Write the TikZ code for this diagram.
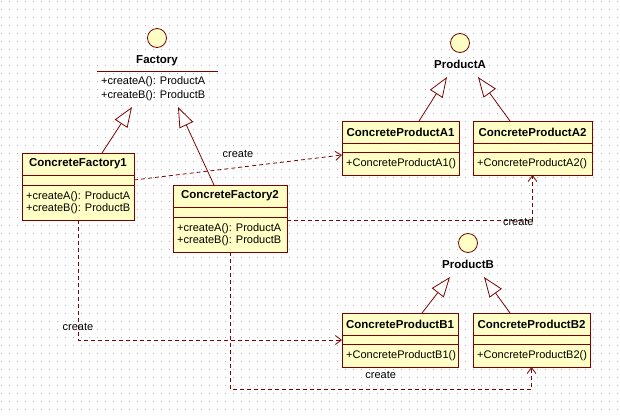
\documentclass[tikz,border=0pt]{standalone}
\usepackage{fontspec}
\setmainfont{Liberation Sans}
\usetikzlibrary{arrows.meta,positioning,calc}
\definecolor{umlred}{RGB}{128,0,0}
\definecolor{umlfill}{RGB}{255,255,198}
\definecolor{dotgray}{RGB}{176,176,176}

\begin{document}
\begin{tikzpicture}[
    x=1pt, y=-1pt,
    classbox/.style={rectangle,draw=umlred,fill=umlfill,line width=.8pt,inner sep=0pt,outer sep=0pt},
    sepline/.style={draw=umlred,line width=.8pt},
    cname/.style={font=\bfseries\fontsize{11.5}{13}\selectfont,inner sep=0pt},
    cops/.style={font=\fontsize{11}{12.5}\selectfont,align=left,inner sep=0pt},
    iface/.style={circle,draw=umlred,fill=umlfill,line width=.8pt,minimum size=19pt,inner sep=0pt},
    iname/.style={font=\bfseries\fontsize{11.5}{13}\selectfont,inner sep=0pt,text height=8pt,text depth=2pt},
    realize/.style={draw=umlred,line width=.8pt,-{Triangle[length=20pt,width=15pt,fill=white]}},
    dep/.style={draw=umlred,line width=.8pt,dash pattern=on 4pt off 3pt,-{Straight Barb[length=6pt,width=9pt]}},
    deplabel/.style={font=\fontsize{11}{12}\selectfont,inner sep=0pt},
    node distance=7pt,
  ]
  \fill[white] (0,0) rectangle (620,416);
  \useasboundingbox (0,0) rectangle (620,416);
  % dot grid
  \foreach \j in {0,...,51}
    \draw[dotgray,line width=1pt,dash pattern=on 1pt off 7pt] (1,{8*\j+1.5}) -- (620,{8*\j+1.5});

  % interfaces
  \node[iface] (fac) at (157,38) {};
  \node[iname] (fac-name) [below=of fac] {Factory};
  \draw[sepline] (97,71) -- (218,71);
  \node[cops,anchor=west,font=\fontsize{11}{14}\selectfont] (fac-ops) at (101,89) {+createA(): ProductA\\+createB(): ProductB};

  \node[iface] (pa) at (460,43) {};
  \node[iname] (pa-name) [below=of pa] {ProductA};
  \node[iface] (pb) at (468,243) {};
  \node[iname] (pb-name) [below=of pb] {ProductB};

  % classes
  \foreach \cls/\cx/\cy/\cw/\ch/\cs/\ctitle/\cbody in {
      cf1/22/153/112/67/32/ConcreteFactory1/{+createA(): ProductA\\+createB(): ProductB},
      cf2/173/185/114/67/32/ConcreteFactory2/{+createA(): ProductA\\+createB(): ProductB},
      cpa1/342/121/117/54/31/ConcreteProductA1/{+ConcreteProductA1()},
      cpa2/473/121/119/54/31/ConcreteProductA2/{+ConcreteProductA2()},
      cpb1/342/313/116/54/31/ConcreteProductB1/{+ConcreteProductB1()},
      cpb2/473/313/117/54/31/ConcreteProductB2/{+ConcreteProductB2()}}
  {
    \node[classbox,minimum width=\cw pt,minimum height=\ch pt,anchor=north west] (\cls) at (\cx,\cy) {};
    \draw[sepline] ($(\cls.north west)+(0,22)$) -- ($(\cls.north east)+(0,22)$);
    \draw[sepline] ($(\cls.north west)+(0,\cs)$) -- ($(\cls.north east)+(0,\cs)$);
    \node[cname] at ($(\cls.north)+(0,11)$) {\ctitle};
    \node[cops,anchor=west] at ($(\cls.north west)+(4,{(\cs+\ch)/2})$) {\cbody};
  }

  % generalization
  \coordinate (fac-l) at (132,107);
  \coordinate (fac-r) at (178,107);
  \coordinate (pa-l) at (447,77);
  \coordinate (pa-r) at (478,77);
  \coordinate (pb-l) at (450,277);
  \coordinate (pb-r) at (484,277);
  \draw[realize] ($(cf1.north west)+(80,0)$) -- (fac-l);
  \draw[realize] ($(cf2.north west)+(41,0)$) -- (fac-r);
  \draw[realize] ($(cpa1.north west)+(77,0)$) -- (pa-l);
  \draw[realize] ($(cpa2.north west)+(37,0)$) -- (pa-r);
  \draw[realize] ($(cpb1.north west)+(80,0)$) -- (pb-l);
  \draw[realize] ($(cpb2.north west)+(37,0)$) -- (pb-r);

  % create dependencies
  \draw[dep] ($(cf1.north east)+(0,27)$) -- ($(cpa1.north west)+(0,34)$) node[deplabel,midway,above=9pt] {create};
  \draw[dep] ($(cf2.north east)+(0,35)$) -| (cpa2.south) node[deplabel,pos=.5,anchor=east,xshift=1.5pt,yshift=-2pt] {create};
  \draw[dep] (cf1.south) |- (cpb1.west) node[deplabel,pos=.5,above=9pt] {create};
  \draw[dep] (cf2.south) |- ($(cpb2.south)+(0,22)$) node[deplabel,pos=.75,above=10pt] {create} -- (cpb2.south);
\end{tikzpicture}
\end{document}
